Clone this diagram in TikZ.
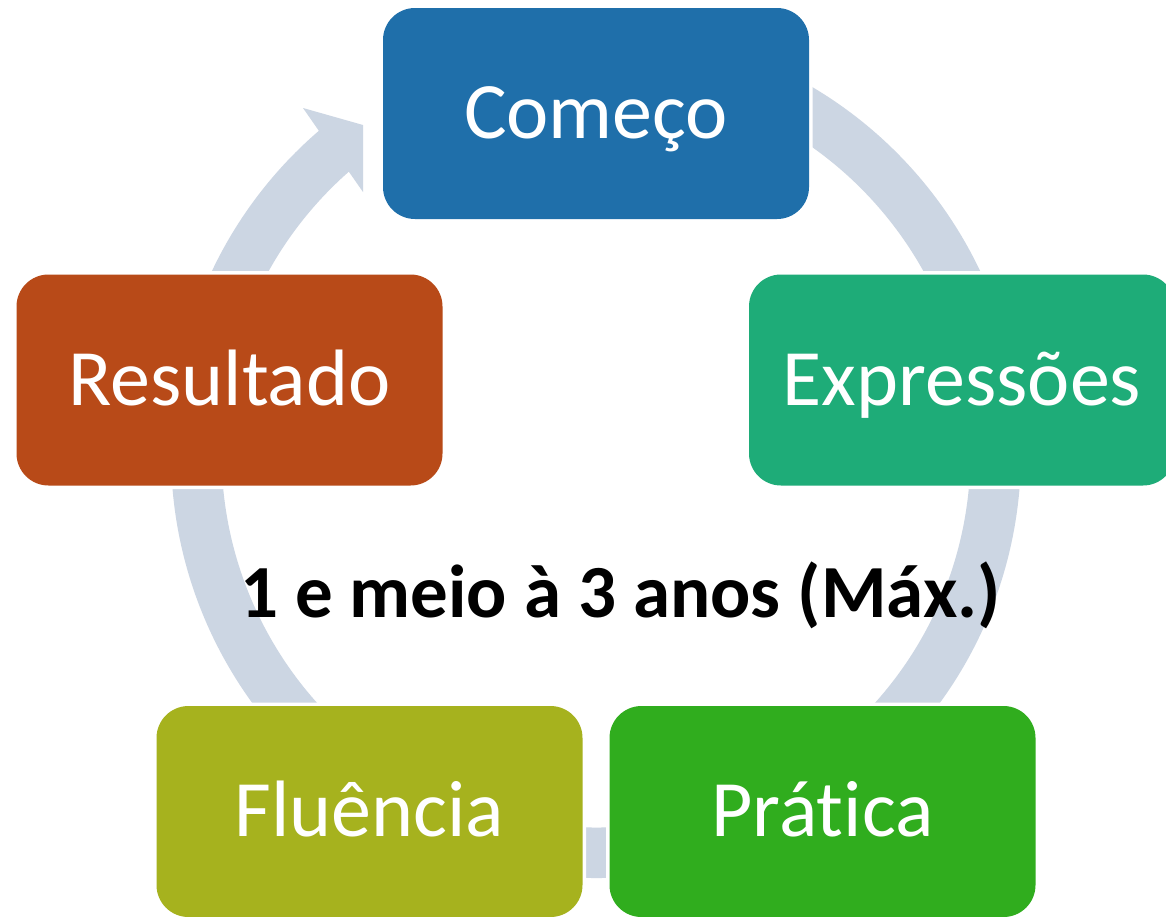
\documentclass[tikz,border=0pt]{standalone}
\usepackage{fontspec}
\setmainfont{Carlito}[Ligatures={NoCommon}]
\usetikzlibrary{calc}
\definecolor{ringc}{RGB}{204,214,227}
\definecolor{cblue}{RGB}{31,111,170}
\definecolor{cteal}{RGB}{30,172,120}
\definecolor{cgreen}{RGB}{48,173,30}
\definecolor{colive}{RGB}{166,178,30}
\definecolor{crust}{RGB}{184,74,24}
\tikzset{
  box/.style={minimum width=426pt, minimum height=211pt, inner sep=0pt, rounded corners=32pt,
    preaction={draw=white, line width=7pt}},
  lbl/.style={text=white, font=\fontsize{80}{96}\selectfont, inner sep=0pt, anchor=base},
  note/.style={text=black, font=\bfseries\fontsize{75}{90}\selectfont, inner sep=0pt, anchor=base}
}
\begin{document}
\begin{tikzpicture}[x=1pt,y=1pt]
\useasboundingbox (0,0) rectangle (1166,-916);
\fill[white] (0,0) rectangle (1166,-916);
\coordinate (o) at (596,-453);
% ring
\draw[ringc, line width=50.5pt] ($(o)+(85:399.75)$) arc[start angle=85, end angle=-190, radius=399.75];
% arrow segment Resultado -> Começo
\fill[ringc] ($(o)+(165:425)$) arc[start angle=165, end angle=130.7, radius=425]
  -- (303,-108) -- (363,-125) -- (363,-192) -- ($(o)+(131.3:374.5)$)
  arc[start angle=131.3, end angle=165, radius=374.5] -- cycle;
% boxes
\node[box, fill=cblue]  (comeco) at (596,-113.5) {};
\node[box, fill=cteal]  (expr)   at (962,-380) {};
\node[box, fill=cgreen] (prat)   at (822.5,-811.5) {};
\node[box, fill=colive] (flu)    at (369.5,-811.5) {};
\node[box, fill=crust]  (res)    at (229.5,-380) {};
% labels
\node[lbl] (tcomeco) at ([yshift=-25pt]comeco.center) {Começo};
\node[lbl] (texpr)   at ([yshift=-25pt]expr.center) {Expressões};
\node[lbl] (tprat)   at ([yshift=-25pt]prat.center) {Prática};
\node[lbl] (tflu)    at ([yshift=-25pt]flu.center) {Fluência};
\node[lbl] (tres)    at ([yshift=-25pt]res.center) {Resultado};
\node[note] (dur) at (620.5,-617) {1 e meio à 3 anos (Máx.)};
\end{tikzpicture}
\end{document}
